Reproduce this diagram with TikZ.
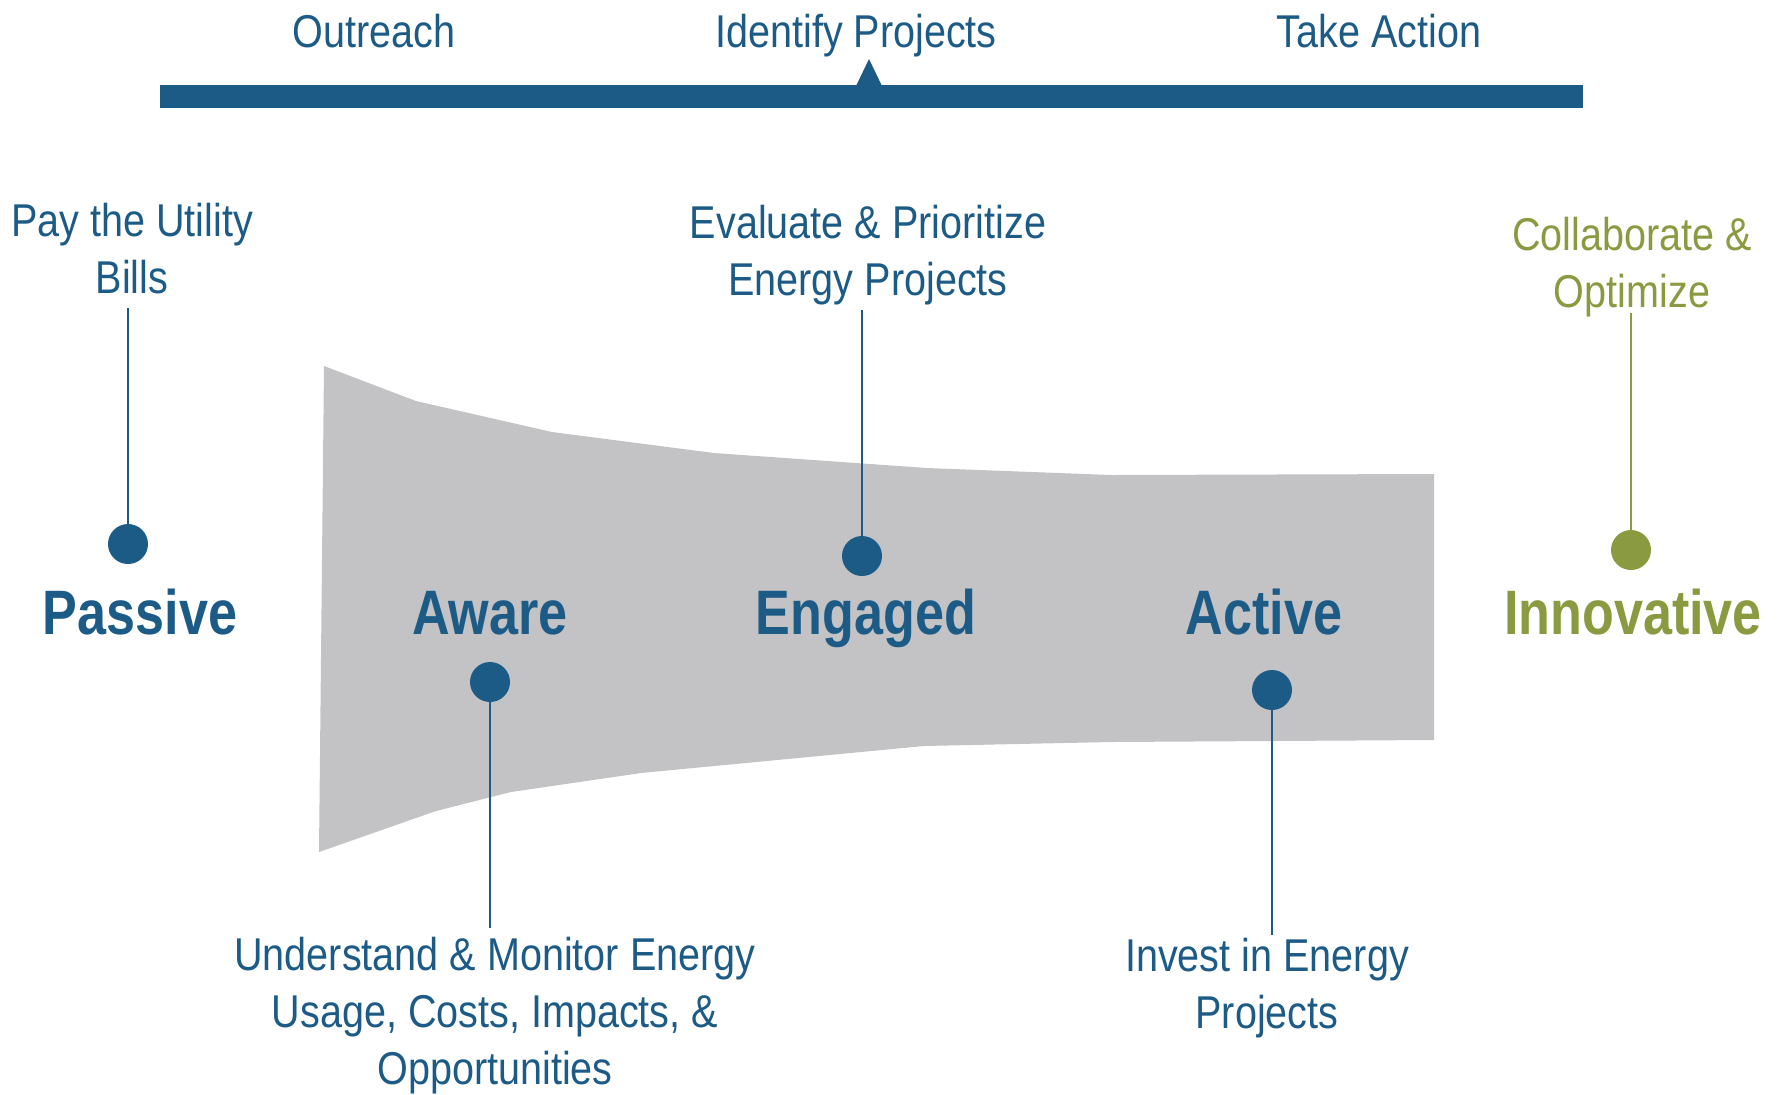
\documentclass[tikz,border=0pt]{standalone}
\usepackage{fontspec}
\setmainfont[FakeStretch=0.86]{Liberation Sans}
\newfontfamily\stagefont[FakeStretch=0.83]{Liberation Sans}
\definecolor{stageblue}{RGB}{29,91,135}
\definecolor{stagegreen}{RGB}{138,154,64}
\definecolor{funnelgrey}{RGB}{195,195,197}
\tikzset{every picture/.style={line width=0.75pt}}

\begin{document}
\begin{tikzpicture}[x=0.5pt,y=0.5pt,yscale=-1,xscale=1,
  stage/.style={anchor=base,inner sep=0pt,text=stageblue,font=\stagefont\fontsize{31.4}{36}\selectfont\bfseries},
  note/.style={anchor=base,inner sep=0pt,align=center,text=stageblue,font=\fontsize{23}{28.5}\selectfont},
  dot/.style={circle,inner sep=0pt,minimum size=20pt,fill=stageblue},
  stem/.style={draw=stageblue,line width=1.15pt}]
\useasboundingbox (0,0) rectangle (1777,1094);

%Shape: Funnel
\fill [funnelgrey] (324,366) -- (416,401) -- (552,432) -- (714,453) -- (927,468) -- (1111,475) -- (1434,474) -- (1434,740) -- (1111,742) -- (924,746) -- (641,773) -- (511,792) -- (436,811) -- (319,852) -- cycle ;

%Shape: Timeline Bar
\fill [stageblue] (160,85) rectangle (1583,108) ;
\fill [stageblue] (856,86) -- (869,59) -- (882,86) -- cycle ;

% Phase Nodes
\node [note] (outreach) at (374,47) {Outreach};
\node [note] (identify) at (856,47) {Identify Projects};
\node [note] (action) at (1379,47) {Take Action};

% Stage Nodes
\node [stage] (passive) at (140,634) {Passive};
\node [stage] (aware) at (490,634) {Aware};
\node [stage] (engaged) at (866,634) {Engaged};
\node [stage] (active) at (1264,634) {Active};
\node [stage,text=stagegreen] (innovative) at (1633,634) {Innovative};

% Dots
\node [dot] (passive dot) at (128,544) {};
\node [dot] (aware dot) at (490,682) {};
\node [dot] (engaged dot) at (862,556) {};
\node [dot] (active dot) at (1272,690) {};
\node [dot,fill=stagegreen] (innovative dot) at (1631,550) {};

% Text Node (base = last line)
\node [note] (pay) at (132,293) {Pay the Utility\\Bills};
% Text Node
\node [note] (evaluate) at (868,295) {Evaluate \& Prioritize\\Energy Projects};
% Text Node
\node [note,text=stagegreen] (collaborate) at (1632,307) {Collaborate \&\\Optimize};
% Text Node
\node [note] (understand) at (495,1084) {Understand \& Monitor Energy\\Usage, Costs, Impacts, \&\\Opportunities};
% Text Node
\node [note] (invest) at (1267,1028) {Invest in Energy\\Projects};

% Stems
\coordinate (pay end) at (128,308);
\coordinate (evaluate end) at (862,310);
\coordinate (collaborate end) at (1631,313);
\coordinate (understand end) at (490,928);
\coordinate (invest end) at (1272,935);
\draw [stem] (pay end) -- (passive dot.center);
\draw [stem] (evaluate end) -- (engaged dot.center);
\draw [stem,draw=stagegreen] (collaborate end) -- (innovative dot.center);
\draw [stem] (aware dot.center) -- (understand end);
\draw [stem] (active dot.center) -- (invest end);

\end{tikzpicture}
\end{document}
